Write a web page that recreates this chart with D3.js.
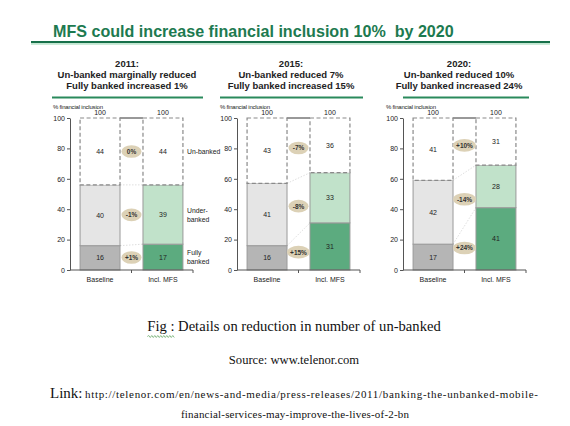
<!DOCTYPE html>
<html>
<head>
<meta charset="utf-8">
<script src="https://cdn.jsdelivr.net/npm/d3@7"></script>
<style>
  html, body { margin: 0; padding: 0; background: #fff; }
  svg { display: block; }
</style>
</head>
<body>
<svg id="chart" width="570" height="426"></svg>
<script>
// ---------------- DATA ----------------
const title = "MFS could increase financial inclusion 10%  by 2020";
const years = ["2011", "2015", "2020"];
const headlines = [
  ["2011:", "Un-banked marginally reduced", "Fully banked increased 1%"],
  ["2015:", "Un-banked reduced 7%", "Fully banked increased 15%"],
  ["2020:", "Un-banked reduced 10%", "Fully banked increased 24%"]
];
const categories = ["Baseline", "Incl. MFS"];
const segmentNames = ["Fully banked", "Under-banked", "Un-banked"];
// values per panel: [fully banked, under-banked, un-banked]
const baselineValues = [[16, 40, 44], [16, 41, 43], [17, 42, 41]];
const mfsValues      = [[17, 39, 44], [31, 33, 36], [41, 28, 31]];
const deltaLabels    = [["+1%", "-1%", "0%"], ["+15%", "-8%", "-7%"], ["+24%", "-14%", "+10%"]];
const totals = [100, 100, 100];
const yTicks = [0, 20, 40, 60, 80, 100];
const yAxisTitle = "% financial inclusion";
const segmentLabels = [["Fully", "banked"], ["Under-", "banked"], ["Un-banked"]];
const caption = "Details on reduction in number of un-banked";
const source = "Source: www.telenor.com";
const linkLine1 = "http://telenor.com/en/news-and-media/press-releases/2011/banking-the-unbanked-mobile-";
const linkLine2 = "financial-services-may-improve-the-lives-of-2-bn";

// ---------------- STYLE ----------------
const green = "#1d7a50";
const colors = {
  base: ["#b5b5b5", "#e5e5e5", "#ffffff"],
  mfs:  ["#5cab7f", "#c1e2ca", "#ffffff"]
};
const bubbleFill = "#dcd1b6";
const sans = "Liberation Sans, Arial, sans-serif";
const serif = "Liberation Serif, 'Times New Roman', serif";

const svg = d3.select("#chart");

// Title
svg.append("text")
  .attr("x", 53).attr("y", 37)
  .attr("font-family", sans).attr("font-weight", "bold").attr("font-size", 16.1)
  .attr("fill", green)
  .attr("xml:space", "preserve")
  .text(title);
svg.append("rect").attr("x", 31).attr("y", 41).attr("width", 519).attr("height", 2.2).attr("fill", "#17704a");
svg.append("rect").attr("x", 31).attr("y", 43.2).attr("width", 519).attr("height", 1.6).attr("fill", "#bfe6cf");

// Panel layout
const axisX = [70, 237, 403];
const sepLines = [[52, 203], [220, 363], [403, 529]];
const headCenter = [127, 291, 459];

const y = d3.scaleLinear().domain([0, 100]).range([270, 118]);
const x = d3.scaleBand().domain(categories).range([0, 123]).paddingInner(0.365).paddingOuter(0.16);
const bw = x.bandwidth();

years.forEach((yr, p) => {
  const g = svg.append("g").attr("transform", `translate(${axisX[p]},0)`);

  // headline
  headlines[p].forEach((line, i) => {
    svg.append("text")
      .attr("x", headCenter[p]).attr("y", 67 + i * 11)
      .attr("text-anchor", "middle")
      .attr("font-family", sans).attr("font-weight", "bold").attr("font-size", 9.5)
      .attr("fill", "#222")
      .text(line);
  });
  svg.append("line")
    .attr("x1", sepLines[p][0]).attr("x2", sepLines[p][1])
    .attr("y1", 97.5).attr("y2", 97.5)
    .attr("stroke", "#2a8a5c").attr("stroke-width", 2);

  // y-axis title
  g.append("text")
    .attr("x", -17).attr("y", 109)
    .attr("font-family", sans).attr("font-size", 6).attr("fill", "#222")
    .attr("letter-spacing", -0.2)
    .text(yAxisTitle);

  // bars
  const sets = [
    { cat: categories[0], vals: baselineValues[p], cols: colors.base },
    { cat: categories[1], vals: mfsValues[p], cols: colors.mfs }
  ];
  const stacks = sets.map(s => {
    let cum = 0;
    return s.vals.map((v, i) => { const seg = { y0: cum, y1: cum + v, v, i }; cum += v; return seg; });
  });

  // connectors (dotted)
  [0, 1].forEach(k => {
    g.append("line")
      .attr("x1", x(categories[0]) + bw).attr("x2", x(categories[1]))
      .attr("y1", y(stacks[0][k].y1)).attr("y2", y(stacks[1][k].y1))
      .attr("stroke", "#d5d5d5").attr("stroke-width", 0.8).attr("stroke-dasharray", "1.5,1.5");
  });
  // top solid line between bars
  g.append("line")
    .attr("x1", x(categories[0]) + bw).attr("x2", x(categories[1]))
    .attr("y1", y(totals[p])).attr("y2", y(totals[p]))
    .attr("stroke", "#333").attr("stroke-width", 1);

  sets.forEach((s, si) => {
    const bx = x(s.cat);
    stacks[si].forEach(seg => {
      const dashed = seg.i === 2;
      g.append("rect")
        .attr("x", bx).attr("width", bw)
        .attr("y", y(seg.y1)).attr("height", y(seg.y0) - y(seg.y1))
        .attr("fill", s.cols[seg.i])
        .attr("stroke", dashed ? "#8a8a8a" : "#9a9a9a")
        .attr("stroke-width", dashed ? 1.2 : 1)
        .attr("stroke-dasharray", dashed ? "4,2.5" : null);
      g.append("text")
        .attr("x", bx + bw / 2).attr("y", y((seg.y0 + seg.y1) / 2) + 2.5)
        .attr("text-anchor", "middle")
        .attr("font-family", sans).attr("font-size", 7).attr("fill", "#222")
        .text(seg.v);
    });
    g.append("text")
      .attr("x", bx + bw / 2).attr("y", y(totals[p]) - 3)
      .attr("text-anchor", "middle")
      .attr("font-family", sans).attr("font-size", 7).attr("fill", "#222")
      .text(totals[p]);
  });

  // delta bubbles
  const midX = (x(categories[0]) + bw + x(categories[1])) / 2;
  deltaLabels[p].forEach((lab, i) => {
    const m0 = (stacks[0][i].y0 + stacks[0][i].y1) / 2;
    const m1 = (stacks[1][i].y0 + stacks[1][i].y1) / 2;
    const cy = y((m0 + m1) / 2);
    g.append("ellipse")
      .attr("cx", midX).attr("cy", cy)
      .attr("rx", lab.length > 3 ? 11.5 : 10).attr("ry", 6.3)
      .attr("fill", bubbleFill);
    g.append("text")
      .attr("x", midX).attr("y", cy + 2.4)
      .attr("text-anchor", "middle")
      .attr("font-family", sans).attr("font-weight", "bold").attr("font-size", 6.5)
      .attr("fill", "#333")
      .text(lab);
  });

  // y axis
  const ya = g.append("g").call(d3.axisLeft(y).tickValues(yTicks).tickSize(3).tickPadding(2).tickSizeOuter(0));
  ya.select(".domain").attr("stroke", "#555");
  ya.selectAll(".tick line").attr("stroke", "#555");
  ya.selectAll("text").attr("font-family", sans).attr("font-size", 7).attr("fill", "#222");

  // x axis
  const xr = x.range();
  g.append("line").attr("x1", 0).attr("x2", xr[1]).attr("y1", y(0)).attr("y2", y(0)).attr("stroke", "#555");
  const tickXs = [x(categories[1]) - x.step() * x.paddingInner() / 2, xr[1]];
  tickXs.forEach(tx => {
    g.append("line").attr("x1", tx).attr("x2", tx).attr("y1", y(0)).attr("y2", y(0) + 3).attr("stroke", "#555");
  });
  categories.forEach(c => {
    g.append("text")
      .attr("x", x(c) + bw / 2).attr("y", y(0) + 12)
      .attr("text-anchor", "middle")
      .attr("font-family", sans).attr("font-size", 7).attr("fill", "#222")
      .text(c);
  });

  // segment labels (first panel only)
  if (p === 0) {
    stacks[1].forEach(seg => {
      const lines = segmentLabels[seg.i];
      const cy = y((seg.y0 + seg.y1) / 2);
      lines.forEach((ln, li) => {
        g.append("text")
          .attr("x", xr[1] - 6).attr("y", cy + 2.5 + (li - (lines.length - 1) / 2) * 9)
          .attr("font-family", sans).attr("font-size", 6.8).attr("fill", "#222")
          .text(ln);
      });
    });
  }
});

// ---------------- CAPTION ----------------
const cap = svg.append("text")
  .attr("x", 294).attr("y", 331)
  .attr("text-anchor", "middle")
  .attr("font-family", serif).attr("font-size", 14.6).attr("fill", "#111");
cap.append("tspan").text("Fig :");
cap.append("tspan").text(" " + caption);

svg.append("text")
  .attr("x", 294).attr("y", 364)
  .attr("text-anchor", "middle")
  .attr("font-family", serif).attr("font-size", 12.6).attr("fill", "#111")
  .text(source);

svg.append("text")
  .attr("x", 50).attr("y", 398)
  .attr("font-family", serif).attr("font-size", 15).attr("fill", "#111")
  .text("Link:");
svg.append("text")
  .attr("x", 85).attr("y", 398)
  .attr("font-family", serif).attr("font-size", 11).attr("fill", "#111")
  .attr("textLength", 453).attr("lengthAdjust", "spacing")
  .text(linkLine1);

svg.append("text")
  .attr("x", 181).attr("y", 418)
  .attr("font-family", serif).attr("font-size", 11).attr("fill", "#111")
  .attr("textLength", 228).attr("lengthAdjust", "spacing")
  .text(linkLine2);

// wavy underline under "Fig :"
const capNode = cap.node();
const startX = capNode.getStartPositionOfChar(0).x;
const endX = capNode.getEndPositionOfChar(4).x;
let d = `M${startX},336.5`;
let up = true;
for (let xx = startX + 1.5; xx <= endX; xx += 1.5) {
  d += ` L${xx},${up ? 335.5 : 337.5}`;
  up = !up;
}
svg.append("path").attr("d", d).attr("fill", "none").attr("stroke", "#5aa05a").attr("stroke-width", 0.7);
</script>
</body>
</html>
